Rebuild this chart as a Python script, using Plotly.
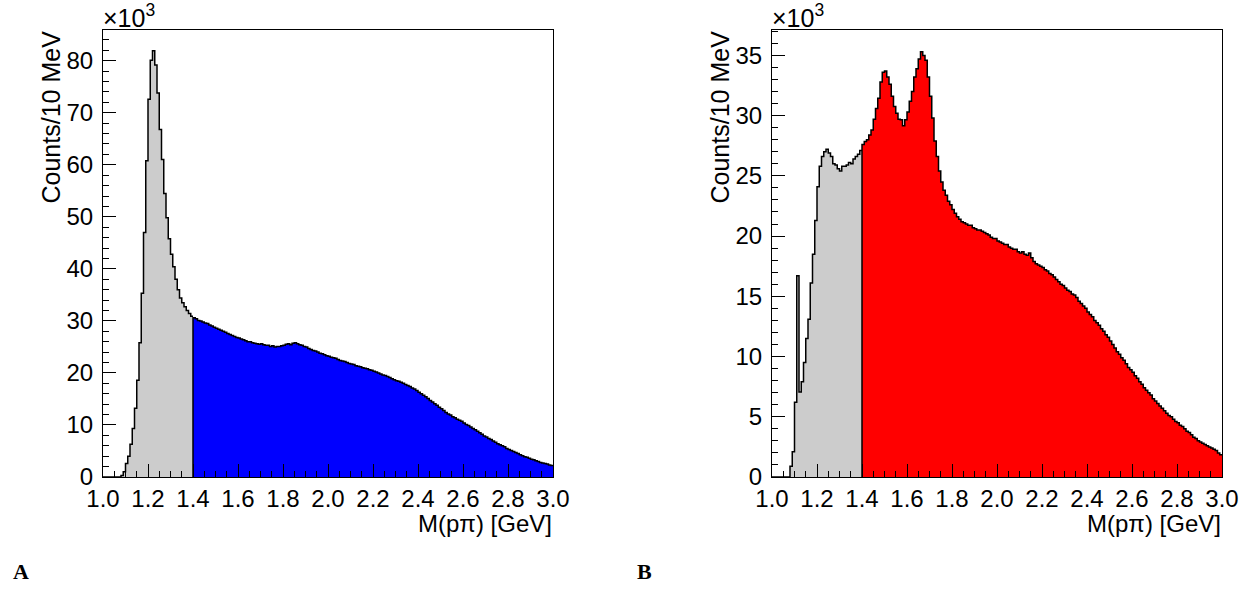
import plotly.graph_objects as go

# Bin edges: 10 MeV bins from 1.0 to 3.0 GeV (200 bins); values in units of 10^3 counts
x_min, x_max, bin_w = 1.0, 3.0, 0.01
split = 1.4  # start of coloured region

left_counts = [
    0, 0, 0, 0, 0, 0, 0, 0, 0.3, 1.0,
    2.6, 4.0, 6.3, 9.3, 13.2, 18.6, 25.8, 35.3, 47.0, 60.8,
    72.6, 80.1, 81.9, 79.2, 73.8, 66.8, 61.0, 54.5, 49.8, 45.8,
    42.8, 40.4, 38.0, 36.0, 34.4, 33.5, 32.7, 32.0, 31.4, 30.9,
    30.6, 30.4, 30.1, 30.0, 29.8, 29.6, 29.5, 29.2, 29.0, 28.8,
    28.6, 28.4, 28.2, 28.0, 27.8, 27.6, 27.4, 27.2, 27.0, 26.8,
    26.7, 26.5, 26.4, 26.2, 26.0, 26.0, 25.8, 25.7, 25.6, 25.5,
    25.6, 25.4, 25.3, 25.3, 25.1, 25.2, 25.0, 25.1, 25.1, 25.2,
    25.3, 25.5, 25.6, 25.4, 25.7, 25.8, 25.6, 25.4, 25.3, 25.1,
    25.0, 24.7, 24.5, 24.3, 24.2, 24.0, 23.8, 23.7, 23.5, 23.3,
    23.2, 23.0, 22.9, 22.8, 22.6, 22.4, 22.3, 22.2, 22.0, 21.8,
    21.7, 21.6, 21.4, 21.3, 21.2, 21.0, 20.9, 20.8, 20.6, 20.5,
    20.3, 20.2, 20.0, 19.8, 19.6, 19.5, 19.3, 19.1, 18.9, 18.7,
    18.5, 18.4, 18.2, 18.0, 17.8, 17.6, 17.4, 17.1, 16.9, 16.6,
    16.3, 16.0, 15.7, 15.4, 15.1, 14.7, 14.4, 14.1, 13.8, 13.4,
    13.1, 12.8, 12.4, 12.1, 11.9, 11.6, 11.4, 11.1, 10.9, 10.7,
    10.4, 10.1, 9.9, 9.6, 9.3, 9.1, 8.8, 8.5, 8.2, 7.9,
    7.7, 7.4, 7.2, 6.9, 6.7, 6.4, 6.2, 6.0, 5.8, 5.5,
    5.3, 5.1, 4.9, 4.7, 4.5, 4.3, 4.1, 3.9, 3.8, 3.6,
    3.4, 3.3, 3.1, 3.0, 2.8, 2.7, 2.6, 2.5, 2.3, 2.2,
]

right_counts = [
    0, 0, 0, 0, 0, 0, 0, 0, 0.9, 2.1,
    6.2, 16.7, 7.05, 7.9, 9.5, 11.5, 13.1, 16.1, 18.5, 21.3,
    24.1, 25.8, 26.6, 27.0, 27.2, 26.9, 26.6, 26.0, 25.9, 25.6,
    25.4, 25.8, 25.8, 25.9, 26.1, 26.0, 26.4, 26.6, 26.8, 27.1,
    27.6, 27.85, 28.0, 28.4, 28.8, 29.7, 30.6, 31.45, 32.8, 33.6,
    33.7, 33.2, 32.6, 31.6, 30.75, 30.2, 29.7, 29.65, 29.15, 29.65,
    30.3, 31.2, 32.0, 33.2, 33.9, 34.7, 35.3, 35.0, 34.6, 33.2,
    31.6, 29.8, 27.9, 26.6, 25.4, 24.5, 23.8, 23.4, 22.9, 22.6,
    22.2, 21.9, 21.6, 21.4, 21.2, 21.1, 21.0, 20.9, 20.9, 20.7,
    20.6, 20.5, 20.5, 20.4, 20.3, 20.2, 20.1, 19.9, 19.8, 19.8,
    19.6, 19.5, 19.4, 19.3, 19.3, 19.1, 19.0, 18.9, 18.9, 18.7,
    18.6, 18.7, 18.5, 18.4, 18.6, 18.2, 17.9, 17.7, 17.6, 17.5,
    17.4, 17.2, 17.1, 16.9, 16.8, 16.6, 16.4, 16.2, 16.0, 15.9,
    15.7, 15.5, 15.4, 15.2, 15.1, 14.9, 14.6, 14.4, 14.2, 14.0,
    13.7, 13.5, 13.3, 13.0, 12.8, 12.6, 12.3, 12.1, 11.8, 11.6,
    11.3, 11.0, 10.7, 10.4, 10.2, 9.9, 9.7, 9.4, 9.1, 8.9,
    8.7, 8.4, 8.2, 7.9, 7.7, 7.4, 7.2, 7.0, 6.8, 6.5,
    6.3, 6.1, 5.9, 5.7, 5.5, 5.3, 5.1, 5.0, 4.8, 4.6,
    4.5, 4.3, 4.2, 4.0, 3.8, 3.7, 3.5, 3.3, 3.2, 3.0,
    2.9, 2.8, 2.7, 2.6, 2.5, 2.4, 2.3, 2.2, 2.0, 1.85,
]

x_ticks = [1.0, 1.2, 1.4, 1.6, 1.8, 2.0, 2.2, 2.4, 2.6, 2.8, 3.0]
left_yticks = [0, 10, 20, 30, 40, 50, 60, 70, 80]
right_yticks = [0, 5, 10, 15, 20, 25, 30, 35]

W, H = 1257, 590
GRAY, BLUE, RED = "#cccccc", "#0000ff", "#ff0000"
FONT = "Liberation Sans, Arial, sans-serif"

n_bins = len(left_counts)
edges = [round(x_min + i * bin_w, 4) for i in range(n_bins + 1)]
i_split = int(round((split - x_min) / bin_w))


def step_points(vals, i0, i1, start_zero=False):
    xs, ys = [], []
    if start_zero:
        xs.append(edges[i0]); ys.append(0)
    for i in range(i0, i1):
        xs.append(edges[i]); ys.append(vals[i])
    xs.append(edges[i1]); ys.append(vals[i1 - 1])
    return xs, ys


def px(x):
    return x / W


def py(y):
    return 1 - y / H


fig = go.Figure()
panels = [
    (left_counts, BLUE, "x", "y", 86.0, left_yticks, 10, 2, (103, 553)),
    (right_counts, RED, "x2", "y2", 37.15, right_yticks, 5, 1, (772, 1222)),
]
for vals, col, xa, ya, ymax, yt, dmaj, dmin, dom in panels:
    gx, gy = step_points(vals, 0, i_split)
    fig.add_trace(go.Scatter(x=gx, y=gy, mode="lines", line=dict(shape="hv", color="black", width=1.5),
                             fill="tozeroy", fillcolor=GRAY, xaxis=xa, yaxis=ya, showlegend=False,
                             hoverinfo="skip"))
    cx, cy = step_points(vals, i_split, n_bins, start_zero=True)
    fig.add_trace(go.Scatter(x=cx, y=cy, mode="lines", line=dict(shape="hv", color="black", width=1.5),
                             fill="tozeroy", fillcolor=col, xaxis=xa, yaxis=ya, showlegend=False,
                             hoverinfo="skip"))

ydom = [py(477), py(29.5)]
common_x = dict(range=[x_min, x_max], tickvals=x_ticks, ticktext=[f"{v:.1f}" for v in x_ticks],
                ticks="inside", ticklen=13, tickwidth=1, tickcolor="black",
                minor=dict(dtick=0.05, tick0=1.0, ticks="inside", ticklen=6, tickcolor="black", tickwidth=1),
                showline=True, linecolor="black", linewidth=1, mirror=True, showgrid=False, zeroline=False,
                automargin=False, tickfont=dict(family=FONT, size=24, color="black"))
fig.update_layout(
    width=W, height=H, margin=dict(l=0, r=0, t=0, b=0, pad=0),
    paper_bgcolor="white", plot_bgcolor="white",
    xaxis=dict(common_x, domain=[px(103), px(553)], anchor="y"),
    xaxis2=dict(common_x, domain=[px(772), px(1222)], anchor="y2"),
)
for name, (vals, col, xa, ya, ymax, yt, dmaj, dmin, dom) in zip(["yaxis", "yaxis2"], panels):
    fig.layout[name] = dict(range=[0, ymax], domain=ydom, anchor=xa, tickvals=yt,
                            ticks="inside", ticklen=13, tickwidth=1, tickcolor="black",
                            minor=dict(dtick=dmin, tick0=0, ticks="inside", ticklen=6, tickcolor="black", tickwidth=1),
                            showline=True, linecolor="black", linewidth=1, mirror=True,
                            showgrid=False, zeroline=False, automargin=False, ticklabelstandoff=4,
                            tickfont=dict(family=FONT, size=24, color="black"))

ann = []
for (l, r) in [(103, 553), (772, 1222)]:
    ann.append(dict(text="×10<sup>3</sup>", x=px(l - 2), y=py(16), xref="paper", yref="paper",
                    xanchor="left", yanchor="middle", showarrow=False,
                    font=dict(family=FONT, size=25, color="black")))
    ann.append(dict(text="M(pπ) [GeV]", x=px(r + 1), y=py(523), xref="paper", yref="paper",
                    xanchor="right", yanchor="middle", showarrow=False,
                    font=dict(family=FONT, size=24, color="black")))
    ann.append(dict(text="Counts/10 MeV", x=px(l - 53), y=py(29), xref="paper", yref="paper",
                    xanchor="center", yanchor="top", textangle=-90, showarrow=False,
                    font=dict(family=FONT, size=25, color="black")))
ann.append(dict(text="<b>A</b>", x=px(11), y=py(571), xref="paper", yref="paper", xanchor="left",
                yanchor="middle", showarrow=False, font=dict(family="Liberation Serif, serif", size=22, color="black")))
ann.append(dict(text="<b>B</b>", x=px(635), y=py(571), xref="paper", yref="paper", xanchor="left",
                yanchor="middle", showarrow=False, font=dict(family="Liberation Serif, serif", size=22, color="black")))
fig.update_layout(annotations=ann)

fig.write_html("out.html")
